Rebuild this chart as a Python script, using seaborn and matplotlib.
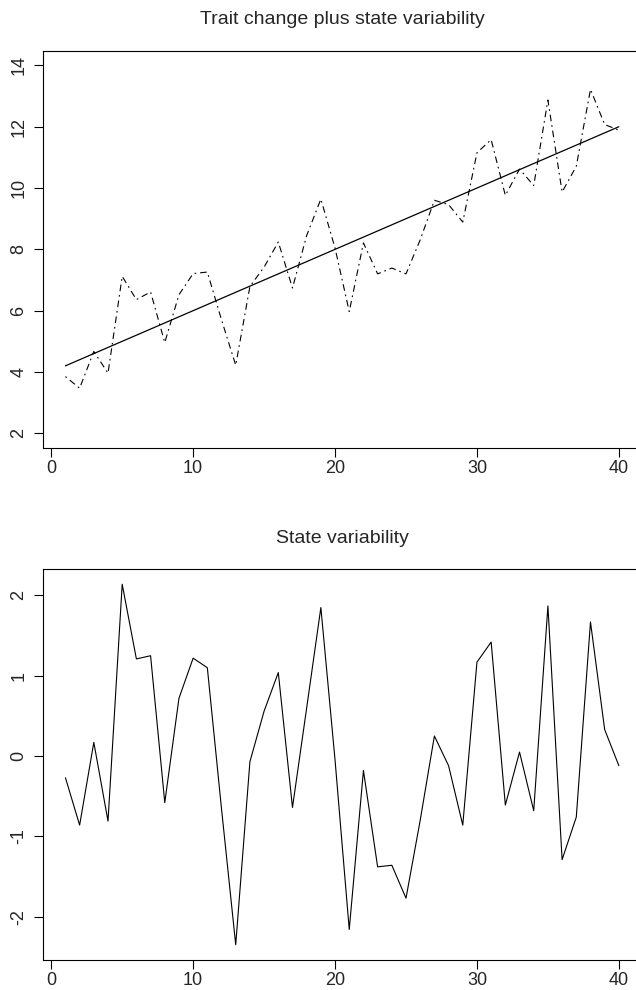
import numpy as np
import pandas as pd
import seaborn as sns
import matplotlib
matplotlib.use("Agg")
import matplotlib.pyplot as plt

# time points
occasions = list(range(1, 41))

# observed scores: trait change plus state variability (dot-dash line)
observed = [3.85, 3.47, 4.67, 3.96, 7.12, 6.36, 6.61, 4.96, 6.52, 7.21,
            7.26, 5.70, 4.22, 6.79, 7.42, 8.24, 6.74, 8.45, 9.64, 8.04,
            5.97, 8.21, 7.20, 7.39, 7.20, 8.31, 9.60, 9.46, 8.89, 11.15,
            11.58, 9.76, 10.62, 10.08, 12.87, 9.87, 10.71, 13.22, 12.07, 11.89]

# linear trait trend (solid line), end points
trend_x = [1, 40]
trend_y = [4.2, 12.0]

# state variability alone
state = [-0.27, -0.86, 0.17, -0.81, 2.14, 1.21, 1.25, -0.58, 0.72, 1.22,
         1.10, -0.66, -2.35, -0.07, 0.56, 1.04, -0.64, 0.60, 1.85, -0.05,
         -2.16, -0.18, -1.38, -1.36, -1.77, -0.80, 0.25, -0.12, -0.86, 1.17,
         1.42, -0.61, 0.05, -0.68, 1.87, -1.29, -0.76, 1.67, 0.33, -0.12]

top_yticks = [2, 4, 6, 8, 10, 12, 14]
bottom_yticks = [-2, -1, 0, 1, 2]
xticks = [0, 10, 20, 30, 40]

sns.set_theme(style="ticks")
plt.rcParams["font.family"] = ["Liberation Sans", "DejaVu Sans"]
plt.rcParams["axes.unicode_minus"] = False

df_obs = pd.DataFrame({"t": occasions, "y": observed})
df_trend = pd.DataFrame({"t": trend_x, "y": trend_y})
df_state = pd.DataFrame({"t": occasions, "y": state})

W, H = 636, 990
fig = plt.figure(figsize=(W / 100, H / 100), dpi=100)
ax1 = fig.add_axes([43.3 / W, 1 - 448 / H, (641 - 43.3) / W, (448 - 50.7) / H])
ax2 = fig.add_axes([43.3 / W, 1 - 960 / H, (641 - 43.3) / W, (960 - 569) / H])

sns.lineplot(data=df_obs, x="t", y="y", ax=ax1, color="black", lw=0.8,
             dashes=False, linestyle=(0, (1.5, 3.5, 6, 3.5)))
sns.lineplot(data=df_trend, x="t", y="y", ax=ax1, color="black", lw=0.9)
sns.lineplot(data=df_state, x="t", y="y", ax=ax2, color="black", lw=0.8)


def style_axis(ax, yticks, title):
    ax.set_xlim(-0.56, 41.56)
    ax.set_xticks(xticks)
    ax.set_yticks(yticks)
    ax.set_xlabel("")
    ax.set_ylabel("")
    ax.set_title(title, fontsize=14, pad=19)
    ax.tick_params(axis="both", length=6.5, width=0.8, color="black",
                   labelsize=13, direction="out")
    ax.tick_params(axis="x", pad=2)
    ax.tick_params(axis="y", pad=5)
    for lbl in ax.get_yticklabels():
        lbl.set_rotation(90)
        lbl.set_va("center")
    for s in ax.spines.values():
        s.set_visible(True)
        s.set_linewidth(0.8)
        s.set_color("black")
    ax.grid(False)


style_axis(ax1, top_yticks, "Trait change plus state variability")
ax1.set_ylim(1.52, 14.48)
style_axis(ax2, bottom_yticks, "State variability")
ax2.set_ylim(-2.54, 2.33)

fig.savefig("out.png", dpi=100)
